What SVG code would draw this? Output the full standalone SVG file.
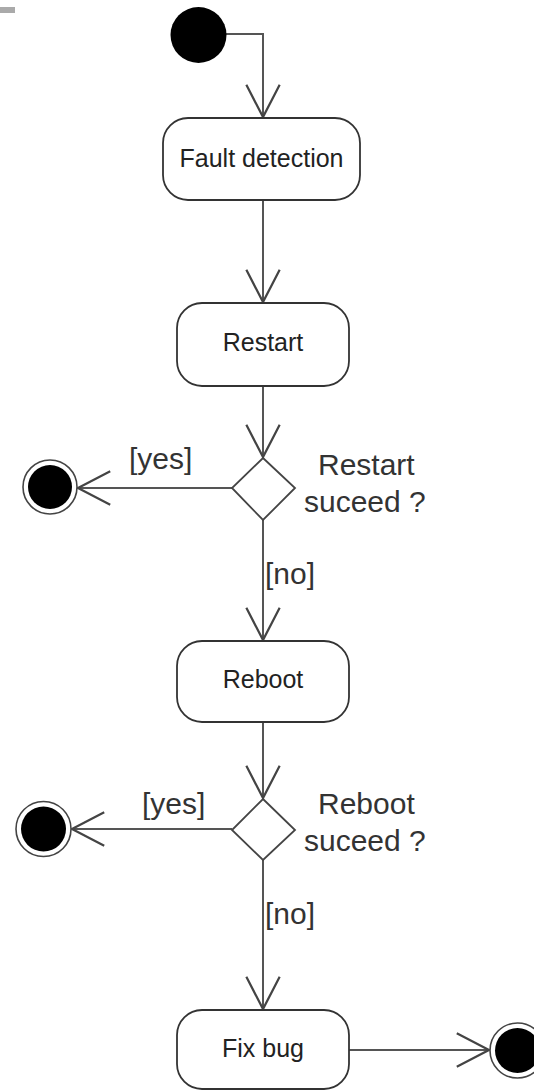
<svg xmlns="http://www.w3.org/2000/svg" width="534" height="1091" viewBox="0 0 534 1091">
  <style>
    .action { fill: #ffffff; stroke: #333333; stroke-width: 1.8; }
    .action-text { font-family: "Liberation Sans", Arial, sans-serif; font-size: 25px; fill: #222222; text-anchor: middle; }
    .label { font-family: "Liberation Sans", Arial, sans-serif; font-size: 30px; fill: #333333; }
    .decision { fill: #ffffff; stroke: #444444; stroke-width: 1.8; }
    .flow { fill: none; stroke: #555555; stroke-width: 2; }
    .start { fill: #000000; }
    .end-ring { fill: #ffffff; stroke: #444444; stroke-width: 1.6; }
    .end-dot { fill: #000000; }
  </style>
  <defs>
    <marker id="open-arrow" markerUnits="userSpaceOnUse" markerWidth="40" markerHeight="40" viewBox="-32 -18 36 36" refX="0" refY="0" orient="auto">
      <path d="M -29 -15 L 0 0 L -29 15" fill="none" stroke="#444444" stroke-width="2"/>
    </marker>
  </defs>

  <!-- small grey tab at the top-left corner -->
  <rect x="0" y="7" width="15" height="6" fill="#aaaaaa"/>

  <!-- control flow -->
  <g id="connectors">
    <path class="flow" d="M 226 34 L 263 34 L 263 117" marker-end="url(#open-arrow)"/>
    <path class="flow" d="M 263 200 L 263 302" marker-end="url(#open-arrow)"/>
    <path class="flow" d="M 263 386 L 263 457" marker-end="url(#open-arrow)"/>
    <path class="flow" d="M 232 488 L 78 488" marker-end="url(#open-arrow)"/>
    <path class="flow" d="M 263 520 L 263 640" marker-end="url(#open-arrow)"/>
    <path class="flow" d="M 263 722 L 263 798" marker-end="url(#open-arrow)"/>
    <path class="flow" d="M 232 829 L 72 829" marker-end="url(#open-arrow)"/>
    <path class="flow" d="M 263 860 L 263 1009" marker-end="url(#open-arrow)"/>
    <path class="flow" d="M 349 1050 L 489 1050" marker-end="url(#open-arrow)"/>
    <text class="label" x="129" y="469">[yes]</text>
    <text class="label" x="265" y="584">[no]</text>
    <text class="label" x="142" y="814">[yes]</text>
    <text class="label" x="265" y="924">[no]</text>
  </g>

  <g id="initial">
    <circle class="start" cx="198.5" cy="35" r="28"/>
  </g>

  <g id="fault-detection">
    <rect class="action" x="163" y="118" width="197" height="82" rx="25" ry="25"/>
    <text class="action-text" x="261.5" y="167">Fault detection</text>
  </g>

  <g id="restart">
    <rect class="action" x="177" y="303" width="172" height="83" rx="25" ry="25"/>
    <text class="action-text" x="263" y="351">Restart</text>
  </g>

  <g id="restart-decision">
    <polygon class="decision" points="263,458 295,488 263,520 232,488"/>
    <text class="label" x="318" y="475">Restart</text>
    <text class="label" x="304" y="512">suceed ?</text>
  </g>

  <g id="final-restart">
    <circle class="end-ring" cx="50" cy="487" r="27"/>
    <circle class="end-dot" cx="50" cy="487" r="22"/>
  </g>

  <g id="reboot">
    <rect class="action" x="177" y="641" width="172" height="81" rx="25" ry="25"/>
    <text class="action-text" x="263" y="688">Reboot</text>
  </g>

  <g id="reboot-decision">
    <polygon class="decision" points="263,799 295,830 263,860 232,830"/>
    <text class="label" x="318" y="814">Reboot</text>
    <text class="label" x="304" y="851">suceed ?</text>
  </g>

  <g id="final-reboot">
    <circle class="end-ring" cx="43.5" cy="829" r="27.5"/>
    <circle class="end-dot" cx="43.5" cy="829" r="22.5"/>
  </g>

  <g id="fix-bug">
    <rect class="action" x="177" y="1010" width="172" height="79" rx="25" ry="25"/>
    <text class="action-text" x="263" y="1057">Fix bug</text>
  </g>

  <g id="final-fix">
    <circle class="end-ring" cx="517.5" cy="1050.5" r="27.5"/>
    <circle class="end-dot" cx="517.5" cy="1050.5" r="22.5"/>
  </g>
</svg>
